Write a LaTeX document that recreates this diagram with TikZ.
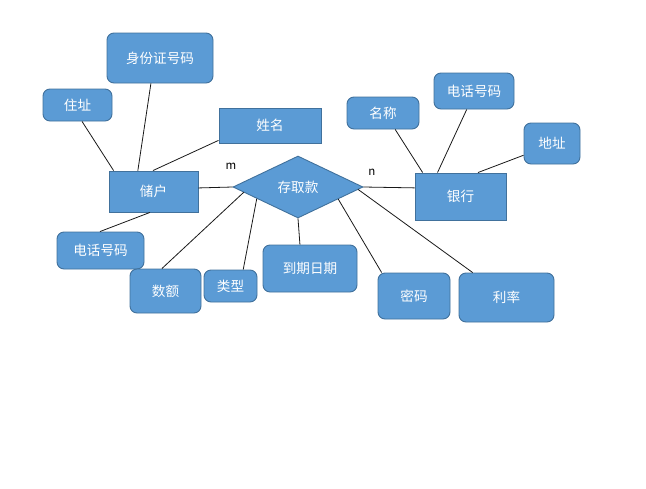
\documentclass[tikz,border=0pt]{standalone}
\usepackage{fontspec}
\newfontfamily\cjk{Noto Sans CJK SC}
\usetikzlibrary{shapes.geometric,calc}
\definecolor{boxfill}{HTML}{5B9BD5}
\definecolor{boxline}{HTML}{41719C}
\begin{document}
\begin{tikzpicture}[x=1pt,y=-1pt,
  ent/.style={rectangle,fill=boxfill,draw=boxline,line width=0.9pt,text=white,
    font=\cjk\fontsize{13.6}{15}\selectfont,inner sep=0pt},
  attr/.style={ent,rounded corners=7pt},
  rel/.style={ent,diamond,minimum width=130pt,minimum height=62pt},
  card/.style={font=\cjk\fontsize{11.5}{13}\selectfont,text=black,inner sep=0pt},
  link/.style={draw=black!90,line width=0.8pt}]
\useasboundingbox (0,0) rectangle (646,488);

% entities
\node[ent,minimum width=89pt,minimum height=41pt] (chuhu) at (153.5,191.5) {储户};
\node[ent,minimum width=91pt,minimum height=47pt] (yinhang) at (460.5,196.5) {银行};
\node[rel] (cqk) at (298,187) {存取款};

% attributes of 储户
\node[attr,minimum width=106pt,minimum height=50pt] (sfz) at (160,58) {身份证号码};
\node[attr,minimum width=69pt,minimum height=32pt] (zhuzhi) at (77.5,105) {住址};
\node[ent,minimum width=102pt,minimum height=35pt] (xingming) at (270,125.5) {姓名};
\node[attr,minimum width=87pt,minimum height=37pt] (dh1) at (100.5,250.5) {电话号码};

% attributes of 存取款
\node[attr,minimum width=71pt,minimum height=44pt] (shue) at (165.5,291) {数额};
\node[attr,minimum width=53pt,minimum height=32pt] (leixing) at (230.5,286) {类型};
\node[attr,minimum width=94pt,minimum height=47pt] (daoqi) at (310,268.5) {到期日期};
\node[attr,minimum width=72pt,minimum height=46pt] (mima) at (414,296) {密码};
\node[attr,minimum width=95pt,minimum height=49pt] (lilv) at (506.5,297.5) {利率};

% attributes of 银行
\node[attr,minimum width=72pt,minimum height=32pt] (mingcheng) at (383,113) {名称};
\node[attr,minimum width=80pt,minimum height=36pt] (dh2) at (474,91) {电话号码};
\node[attr,minimum width=56pt,minimum height=41pt] (dizhi) at (552,143.5) {地址};

% cardinalities
\node[card] (m) at (231,166) {m};
\node[card] (n) at (372,172) {n};

% connectors
\draw[link] ($(zhuzhi.south west)!0.565!(zhuzhi.south east)$) -- ($(chuhu.north west)!0.056!(chuhu.north east)$);
\draw[link] ($(sfz.south west)!0.415!(sfz.south east)$) -- ($(chuhu.north west)!0.326!(chuhu.north east)$);
\draw[link] ($(xingming.north west)!0.914!(xingming.south west)$) -- ($(chuhu.north west)!0.494!(chuhu.north east)$);
\draw[link] ($(chuhu.north east)!0.415!(chuhu.south east)$) -- (cqk.west);
\draw[link] ($(chuhu.south west)!0.46!(chuhu.south east)$) -- ($(dh1.north west)!0.494!(dh1.north east)$);

\draw[link] ($(cqk.west)!0.17!(cqk.south)$) -- ($(shue.north west)!0.45!(shue.north east)$);
\draw[link] ($(cqk.west)!0.37!(cqk.south)$) -- ($(leixing.north west)!0.736!(leixing.north east)$);
\draw[link] (cqk.south) -- ($(daoqi.north west)!0.394!(daoqi.north east)$);
\draw[link] ($(cqk.south)!0.615!(cqk.east)$) -- ($(mima.north west)!0.056!(mima.north east)$);
\draw[link] ($(cqk.south)!0.92!(cqk.east)$) -- ($(lilv.north west)!0.147!(lilv.north east)$);
\draw[link] (cqk.east) -- ($(yinhang.north west)!0.32!(yinhang.south west)$);

\draw[link] ($(mingcheng.south west)!0.667!(mingcheng.south east)$) -- ($(yinhang.north west)!0.088!(yinhang.north east)$);
\draw[link] ($(dh2.south west)!0.41!(dh2.south east)$) -- ($(yinhang.north west)!0.25!(yinhang.north east)$);
\draw[link] ($(dizhi.north west)!0.78!(dizhi.south west)$) -- ($(yinhang.north west)!0.69!(yinhang.north east)$);
\end{tikzpicture}
\end{document}
